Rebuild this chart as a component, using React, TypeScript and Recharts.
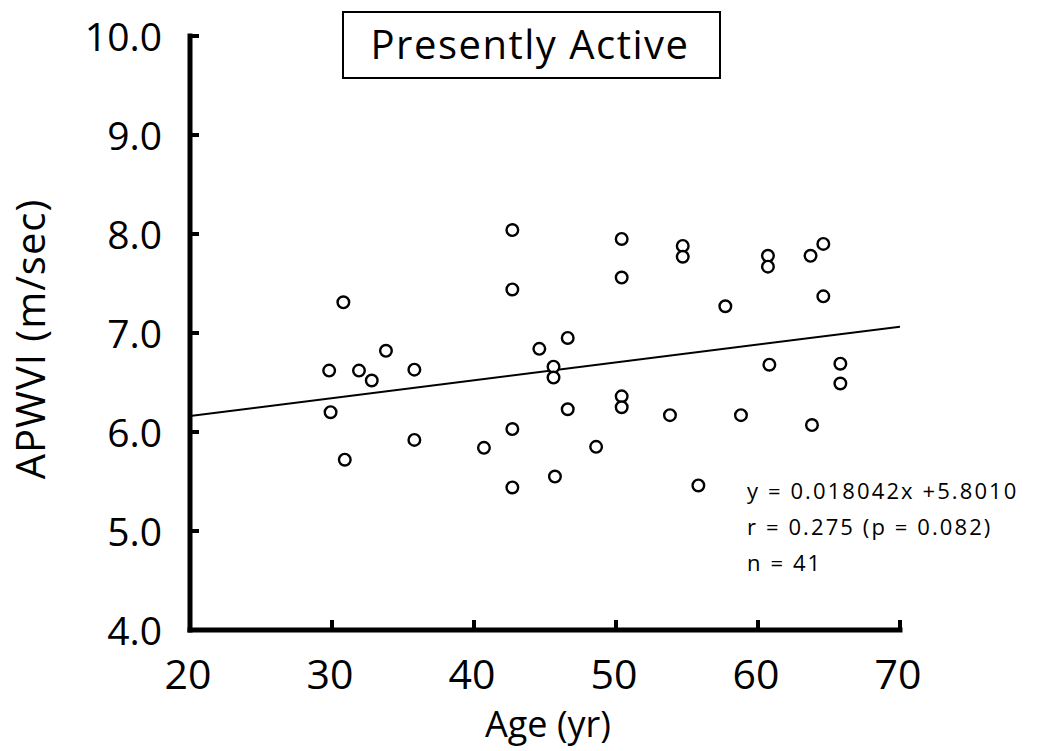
import { Label, Scatter, ScatterChart, XAxis, YAxis } from 'recharts';

// Age (yr) and APWVI (m/sec) for the presently active group
const ages = [
  29.8, 29.9, 30.8, 30.9, 31.9, 32.8, 33.8, 35.8, 35.8, 40.7,
  42.7, 42.7, 42.7, 42.7, 44.6, 45.6, 45.6, 45.7, 46.6, 46.6,
  48.6, 50.4, 50.4, 50.4, 50.4, 53.8, 54.7, 54.7, 55.8, 57.7,
  58.8, 60.7, 60.7, 60.8, 63.7, 64.6, 64.6, 63.8, 65.8, 65.8,
];
const apwvi = [
  6.62, 6.2, 7.31, 5.72, 6.62, 6.52, 6.82, 6.63, 5.92, 5.84,
  8.04, 7.44, 6.03, 5.44, 6.84, 6.66, 6.55, 5.55, 6.95, 6.23,
  5.85, 7.95, 7.56, 6.36, 6.25, 6.17, 7.88, 7.77, 5.46, 7.27,
  6.17, 7.78, 7.67, 6.68, 7.78, 7.9, 7.37, 6.07, 6.69, 6.49,
];

const xTicks = [20, 30, 40, 50, 60, 70];
const yTicks = [4, 5, 6, 7, 8, 9, 10];

const slope = 0.018042;
const intercept = 5.801;
const fitRange = [20, 70];

const statLines = ['y = 0.018042x +5.8010', 'r = 0.275 (p = 0.082)', 'n = 41'];

const points = ages.map((age, i) => ({ age, v: apwvi[i] }));
const fit = fitRange.map((age) => ({ age, v: slope * age + intercept }));

const FONT = '"Open Sans", sans-serif';

function OpenCircle(props: any) {
  const { cx, cy } = props;
  return <circle cx={cx} cy={cy} r={5.8} fill="#fff" stroke="#000" strokeWidth={2.4} />;
}

function YTick(props: any) {
  const { x, y, payload } = props;
  return (
    <g>
      {payload.value !== 4 && (
        <line x1={x} x2={x + 9} y1={y} y2={y} stroke="#000" strokeWidth={4} />
      )}
      <text x={x - 28} y={y + 15} textAnchor="end" fontSize={39} fontFamily={FONT} fill="#000">
        {Number(payload.value).toFixed(1)}
      </text>
    </g>
  );
}

function XTick(props: any) {
  const { x, y, payload } = props;
  return (
    <g>
      {payload.value !== 20 && (
        <line x1={x} x2={x} y1={y} y2={y - 10} stroke="#000" strokeWidth={4} />
      )}
      <text x={x - 2} y={y + 59} textAnchor="middle" fontSize={41} fontFamily={FONT} fill="#000">
        {payload.value}
      </text>
    </g>
  );
}

export default function App() {
  return (
    <div style={{ position: 'absolute', left: 0, top: 0, width: 1054, height: 751, background: '#fff' }}>
      <ScatterChart width={1054} height={751} margin={{ top: 36, right: 154, bottom: 0, left: 0 }}>
        <XAxis
          type="number"
          dataKey="age"
          domain={[20, 70]}
          ticks={xTicks}
          height={121}
          axisLine={{ stroke: '#000', strokeWidth: 5, strokeLinecap: 'square' }}
          tickLine={false}
          tickSize={0}
          tickMargin={0}
          tick={<XTick />}
          allowDataOverflow
        >
          <Label
            content={(p: any) => (
              <text
                x={p.viewBox.x + p.viewBox.width / 2 + 3}
                y={p.viewBox.y + 107}
                textAnchor="middle"
                fontSize={36}
                fontFamily={FONT}
                fill="#000"
              >
                Age (yr)
              </text>
            )}
          />
        </XAxis>
        <YAxis
          type="number"
          dataKey="v"
          domain={[4, 10]}
          ticks={yTicks}
          width={190}
          axisLine={{ stroke: '#000', strokeWidth: 5, strokeLinecap: 'square' }}
          tickLine={false}
          tickSize={0}
          tickMargin={0}
          tick={<YTick />}
          allowDataOverflow
        >
          <Label
            content={(p: any) => {
              const cx = 31;
              const cy = p.viewBox.y + p.viewBox.height / 2 + 6;
              return (
                <text
                  x={cx}
                  y={cy}
                  dy="0.36em"
                  transform={`rotate(-90, ${cx}, ${cy})`}
                  textAnchor="middle"
                  fontSize={40}
                  letterSpacing={1}
                  fontFamily={FONT}
                  fill="#000"
                >
                  APWVI (m/sec)
                </text>
              );
            }}
          />
        </YAxis>
        <Scatter
          data={fit}
          line={{ stroke: '#000', strokeWidth: 2 }}
          shape={() => <g />}
          isAnimationActive={false}
        />
        <Scatter data={points} shape={<OpenCircle />} isAnimationActive={false} />
      </ScatterChart>

      <svg
        width={1054}
        height={751}
        style={{ position: 'absolute', left: 0, top: 0, pointerEvents: 'none' }}
      >
        <rect x={343} y={12} width={377} height={66} fill="#fff" stroke="#000" strokeWidth={2} />
        <text
          x={530}
          y={59}
          textAnchor="middle"
          fontSize={40}
          letterSpacing={1.5}
          fontFamily={FONT}
          fill="#000"
        >
          Presently Active
        </text>
        {statLines.map((s, i) => (
          <text
            key={s}
            x={747}
            y={499 + i * 36}
            fontSize={22}
            letterSpacing={2.1}
            fontFamily={FONT}
            fill="#000"
          >
            {s}
          </text>
        ))}
      </svg>
    </div>
  );
}
